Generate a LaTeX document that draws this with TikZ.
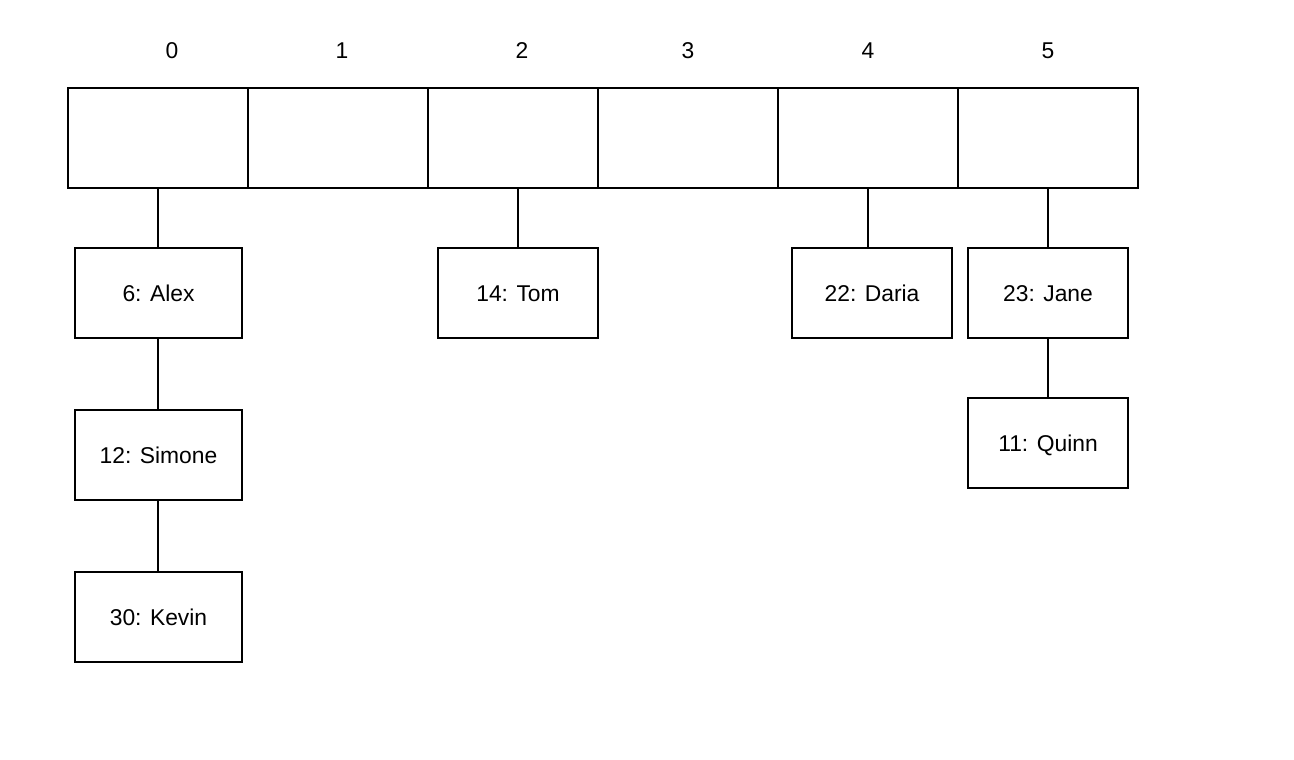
\documentclass[tikz,border=0pt]{standalone}
\usepackage{fontspec}
\setmainfont{Liberation Sans}
\usepackage{tikz}
\usetikzlibrary{calc}

\begin{document}
\begin{tikzpicture}[x=0.02cm, y=-0.02cm,
  cell/.style={draw, line width=1.1pt, minimum height=2cm, inner sep=0pt},
  entry/.style={draw, line width=1.1pt, minimum width=3.2cm, minimum height=1.8cm, inner sep=0pt, text height=1.1em, text depth=0.18em, font=\fontsize{13}{15}\selectfont},
  link/.style={line width=1.1pt},
  idx/.style={font=\fontsize{13}{15}\selectfont}]

  \useasboundingbox (0,0) rectangle (1294,760);

  % the buckets
  \node[cell, minimum width=3.6cm] (b0) at (158,138) {};
  \node[cell, minimum width=3.6cm] (b1) at (338,138) {};
  \node[cell, minimum width=3.4cm] (b2) at (513,138) {};
  \node[cell, minimum width=3.6cm] (b3) at (688,138) {};
  \node[cell, minimum width=3.6cm] (b4) at (868,138) {};
  \node[cell, minimum width=3.6cm] (b5) at (1048,138) {};

  \node[idx] (i0) at (172,51) {0};
  \node[idx] (i1) at (342,51) {1};
  \node[idx] (i2) at (522,51) {2};
  \node[idx] (i3) at (688,51) {3};
  \node[idx] (i4) at (868,51) {4};
  \node[idx] (i5) at (1048,51) {5};

  % chains
  \node[entry, minimum width=3.34cm] (alex) at (158.5,293) {6: Alex};
  \node[entry, minimum width=3.34cm] (simone) at (158.5,455) {12: Simone};
  \node[entry, minimum width=3.34cm] (kevin) at (158.5,617) {30: Kevin};
  \node[entry] (tom) at (518,293) {14: Tom};
  \node[entry] (daria) at (872,293) {22: Daria};
  \node[entry] (jane) at (1048,293) {23: Jane};
  \node[entry] (quinn) at (1048,443) {11: Quinn};

  \draw[link] (b0.south) -- (b0.south |- alex.north);
  \draw[link] (b0.south |- alex.south) -- (b0.south |- simone.north);
  \draw[link] (b0.south |- simone.south) -- (b0.south |- kevin.north);
  \draw[link] (b2.south -| tom.north) -- (tom.north);
  \draw[link] (b4.south) -- (b4.south |- daria.north);
  \draw[link] (b5.south) -- (jane.north);
  \draw[link] (jane) -- (quinn);
\end{tikzpicture}
\end{document}
